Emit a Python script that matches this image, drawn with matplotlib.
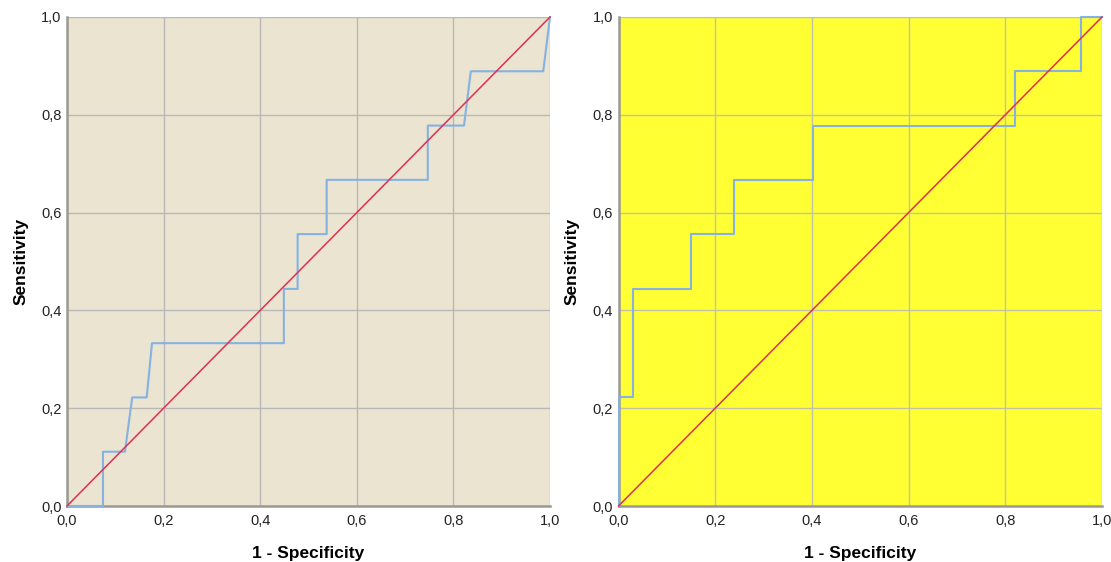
import matplotlib
matplotlib.use("Agg")
import matplotlib.pyplot as plt
from matplotlib.ticker import FuncFormatter
import numpy as np

plt.rcParams['font.family'] = ['Liberation Sans', 'DejaVu Sans']

# ROC curve vertices (1 - specificity, sensitivity)
left_fpr = [0.0, 0.0745, 0.0745, 0.120, 0.135, 0.165, 0.176, 0.449, 0.449,
            0.4775, 0.4775, 0.5376, 0.5376, 0.747, 0.747, 0.822, 0.836, 0.986, 1.0]
left_tpr = [0.0, 0.0, 0.111, 0.111, 0.222, 0.222, 0.333, 0.333, 0.444,
            0.444, 0.556, 0.556, 0.667, 0.667, 0.778, 0.778, 0.889, 0.889, 1.0]

right_fpr = [0.0, 0.0, 0.030, 0.030, 0.150, 0.150, 0.2386, 0.2386, 0.4025,
             0.4025, 0.8207, 0.8207, 0.9556, 0.9556, 1.0]
right_tpr = [0.0, 0.222, 0.222, 0.444, 0.444, 0.556, 0.556, 0.667, 0.667,
             0.778, 0.778, 0.889, 0.889, 1.0, 1.0]

ticks = [0.0, 0.2, 0.4, 0.6, 0.8, 1.0]
reference = [0.0, 1.0]

W, H = 1111, 562
fig = plt.figure(figsize=(W / 100, H / 100), dpi=100)

panels = [
    (67, 483, left_fpr, left_tpr, '#EBE4D1', '#B9B7B8'),
    (618.5, 483.5, right_fpr, right_tpr, '#FFFF33', '#C2C2A4'),
]

comma = FuncFormatter(lambda v, p: f"{v:.1f}".replace('.', ','))

for x0, w, fpr, tpr, bg, gridc in panels:
    ax = fig.add_axes([x0 / W, (H - 506) / H, w / W, 489 / H])
    ax.set_facecolor(bg)
    ax.set_xlim(0, 1)
    ax.set_ylim(0, 1)
    ax.set_xticks(ticks)
    ax.set_yticks(ticks)
    ax.xaxis.set_major_formatter(comma)
    ax.yaxis.set_major_formatter(comma)
    ax.grid(True, color=gridc, linewidth=1.0, zorder=0)
    ax.set_axisbelow(True)
    ax.tick_params(length=0, labelsize=10.5, colors='#222222')
    ax.tick_params(axis='x', pad=6)
    ax.tick_params(axis='y', pad=4)
    for s in ['top', 'right']:
        ax.spines[s].set_visible(False)
    for s in ['left', 'bottom']:
        ax.spines[s].set_color('#9A9A94')
        ax.spines[s].set_linewidth(1.8)
    ax.plot(fpr, tpr, color='#85B2E0', linewidth=1.5, zorder=3, clip_on=False)
    ax.plot(reference, reference, color='#E0304F', linewidth=1.1, zorder=4, clip_on=False)
    ax.set_xlabel('1 - Specificity', fontsize=12.5, fontweight='bold', labelpad=13)
    ax.set_ylabel('Sensitivity', fontsize=12.5, fontweight='bold', labelpad=9)

fig.savefig('out.png', dpi=100)
